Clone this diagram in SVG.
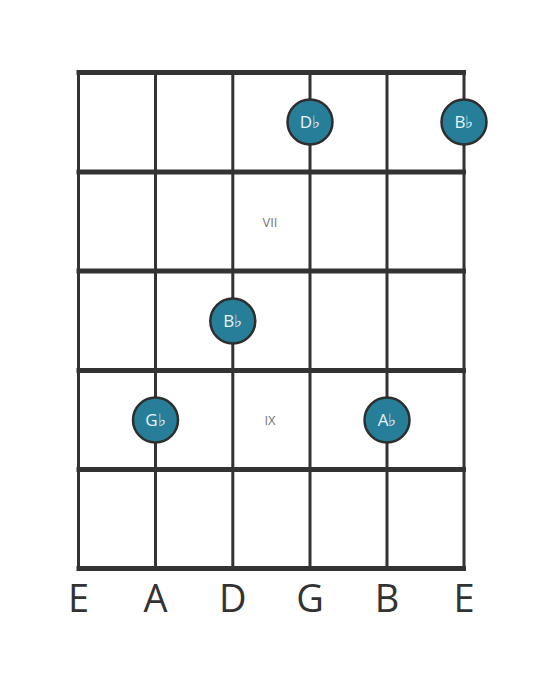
<svg xmlns="http://www.w3.org/2000/svg" width="559" height="682" viewBox="0 0 559 682">
<style>
.fret{stroke:#333;stroke-width:5;stroke-linecap:square}
.str{stroke:#333;stroke-width:3}
.note circle{fill:#267e98;stroke:#2e2e2e;stroke-width:2.5}
.note text{fill:#e8f4f8;font-family:"Open Sans",sans-serif;font-size:17px;text-anchor:middle}
.pos{fill:#777;font-family:"Open Sans",sans-serif;font-size:13px;text-anchor:middle}
.sname{fill:#333;font-family:"Open Sans",sans-serif;font-size:38px;text-anchor:middle}
</style>
<rect width="559" height="682" fill="#fff"/>
<g id="connectors">
<line class="str" x1="78.5" y1="72" x2="78.5" y2="569"/>
<line class="str" x1="155.5" y1="72" x2="155.5" y2="569"/>
<line class="str" x1="232.8" y1="72" x2="232.8" y2="569"/>
<line class="str" x1="310" y1="72" x2="310" y2="569"/>
<line class="str" x1="387" y1="72" x2="387" y2="569"/>
<line class="str" x1="464" y1="72" x2="464" y2="569"/>
<line class="fret" x1="79" y1="72.5" x2="463.5" y2="72.5"/>
<line class="fret" x1="79" y1="172" x2="463.5" y2="172"/>
<line class="fret" x1="79" y1="271" x2="463.5" y2="271"/>
<line class="fret" x1="79" y1="370.5" x2="463.5" y2="370.5"/>
<line class="fret" x1="79" y1="469.5" x2="463.5" y2="469.5"/>
<line class="fret" x1="79" y1="568.5" x2="463.5" y2="568.5"/>
</g>
<g id="pos-VII"><text class="pos" x="270" y="227">VII</text></g>
<g id="pos-IX"><text class="pos" x="270" y="425">IX</text></g>
<g id="note-Db" class="note"><circle cx="310" cy="122" r="22.5"/><text x="310" y="128">D♭</text></g>
<g id="note-Bb-top" class="note"><circle cx="464" cy="122" r="22.5"/><text x="464" y="128">B♭</text></g>
<g id="note-Bb" class="note"><circle cx="232.8" cy="321" r="22.5"/><text x="232.8" y="327">B♭</text></g>
<g id="note-Gb" class="note"><circle cx="155.5" cy="420" r="22.5"/><text x="155.5" y="426">G♭</text></g>
<g id="note-Ab" class="note"><circle cx="387" cy="420" r="22.5"/><text x="387" y="426">A♭</text></g>
<g id="string-names">
<text class="sname" x="78.5" y="612">E</text>
<text class="sname" x="155.5" y="612">A</text>
<text class="sname" x="232.8" y="612">D</text>
<text class="sname" x="310" y="612">G</text>
<text class="sname" x="387" y="612">B</text>
<text class="sname" x="464" y="612">E</text>
</g>
</svg>
